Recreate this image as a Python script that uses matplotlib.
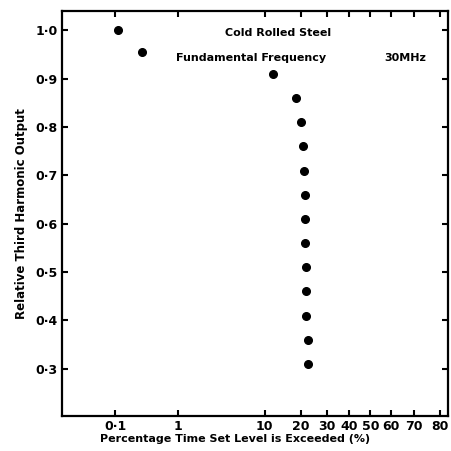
# Relative third harmonic output vs percentage time, normal probability x axis

import numpy as np
import matplotlib
matplotlib.use("Agg")
import matplotlib.pyplot as plt
from statistics import NormalDist

percent_exceeded = [0.11, 0.28, 12.0, 18.5, 20.0, 20.9, 21.0, 21.5, 21.5,
                    21.6, 21.7, 21.9, 21.7, 22.5, 22.5]
relative_output = [1.0, 0.955, 0.91, 0.86, 0.81, 0.76, 0.71, 0.66, 0.61,
                   0.56, 0.51, 0.46, 0.41, 0.36, 0.31]

x_ticks = [0.1, 1, 10, 20, 30, 40, 50, 60, 70, 80]
x_ticklabels = ["0·1", "1", "10", "20", "30", "40", "50", "60", "70", "80"]
y_ticks = [1.0, 0.9, 0.8, 0.7, 0.6, 0.5, 0.4, 0.3]
y_ticklabels = ["1·0", "0·9", "0·8", "0·7", "0·6", "0·5", "0·4", "0·3"]

nd = NormalDist()
_ppf = np.vectorize(nd.inv_cdf, otypes=[float])
_cdf = np.vectorize(nd.cdf, otypes=[float])


def to_z(p):
    p = np.clip(np.asarray(p, dtype=float), 1e-7, 100 - 1e-7)
    return _ppf(p / 100.0)


def from_z(z):
    return _cdf(np.asarray(z, dtype=float)) * 100.0


plt.rcParams['font.family'] = ['DejaVu Sans']
plt.rcParams['font.weight'] = 'bold'

fig = plt.figure(figsize=(4.51, 4.51), dpi=100)
ax = fig.add_axes([0.137, 0.078, 0.856, 0.898])
ax.set_xscale('function', functions=(to_z, from_z))

ax.plot(percent_exceeded, relative_output, 'o', color='black', ms=5.5)

ax.set_xlim(0.0093, 82.6)
ax.set_ylim(0.203, 1.04)
ax.set_xticks(x_ticks)
ax.set_xticklabels(x_ticklabels)
ax.set_xticks([], minor=True)
ax.set_yticks(y_ticks)
ax.set_yticklabels(y_ticklabels)
ax.tick_params(direction='in', length=4, width=1.5, top=True, right=True,
               labelsize=9, pad=3)
for s in ax.spines.values():
    s.set_linewidth(1.6)

ax.set_xlabel('Percentage Time Set Level is Exceeded (%)', fontsize=8,
              fontweight='bold')
ax.xaxis.set_label_coords(0.45, -0.045)
ax.set_ylabel('Relative Third Harmonic Output', fontsize=8.5,
              fontweight='bold', labelpad=5)

ax.text(0.56, 0.945, 'Cold Rolled Steel', transform=ax.transAxes,
        ha='center', va='center', fontsize=8, fontweight='bold')
ax.text(0.295, 0.884, 'Fundamental Frequency', transform=ax.transAxes,
        ha='left', va='center', fontsize=8, fontweight='bold')
ax.text(0.835, 0.884, '30MHz', transform=ax.transAxes,
        ha='left', va='center', fontsize=8, fontweight='bold')

fig.savefig('out.png', dpi=100)
